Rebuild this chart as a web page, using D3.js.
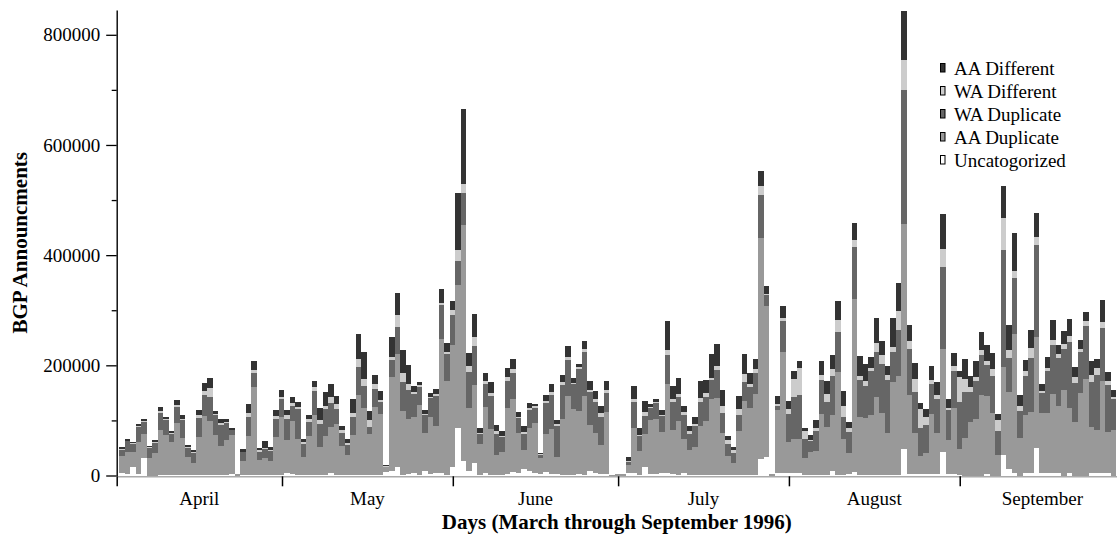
<!DOCTYPE html>
<html>
<head>
<meta charset="utf-8">
<script src="https://cdn.jsdelivr.net/npm/d3@7"></script>
<style>
  html, body { margin: 0; padding: 0; background: #fff; }
  svg { display: block; font-family: "Liberation Serif", "Times New Roman", serif; }
</style>
</head>
<body>
<svg id="chart" width="1117" height="539"></svg>
<script>
// ---- DATA (values in thousands of announcements, one entry per day from April 1, 1996) ----
const seriesKeys = ["Uncatogorized", "AA Duplicate", "WA Duplicate", "WA Different", "AA Different"];
const legendOrder = ["AA Different", "WA Different", "WA Duplicate", "AA Duplicate", "Uncatogorized"];

const uncategorized = [
  5,3,16,3,32,0,0,1,1,1,1,1,1,1,1,1,1,1,1,1,3,0,1,1,1,1,1,1,1,1,
  4,3,1,1,1,1,1,1,4,1,1,1,1,1,1,1,1,1,7,8,15,1,3,4,1,8,3,4,5,1,15,
  86,26,8,23,1,4,1,1,1,3,7,4,12,8,4,3,6,3,3,1,1,1,3,1,8,4,3,3,0,0,
  0,4,4,1,16,2,2,4,4,2,1,4,1,1,1,1,1,1,1,1,1,1,1,1,1,30,33,0,5,4,4,
  4,4,1,1,1,1,1,8,1,1,3,6,1,1,1,1,1,1,1,1,48,2,2,2,2,2,2,42,2,2,1,
  0,0,0,0,2,0,0,37,11,4,0,5,4,50,4,4,4,4,0,4,0,0,0,4,4,4,4,0
];
const aaDuplicate = [
  31,39,27,58,43,31,41,81,72,59,94,67,32,22,69,107,98,72,52,64,70,2,26,70,160,27,30,26,68,105,
  60,96,66,32,70,108,51,70,84,92,52,36,72,145,121,74,123,110,8,170,205,116,100,102,127,69,103,86,242,170,221,
  259,428,114,141,56,121,83,36,41,120,132,73,34,78,91,29,69,82,31,102,144,120,114,144,83,73,53,112,1,2,
  2,15,82,44,59,98,100,75,162,80,98,62,46,50,89,98,138,140,77,35,21,80,135,122,147,402,274,2,113,220,57,
  62,62,30,41,43,110,87,101,186,65,38,314,106,104,108,142,113,77,168,180,408,145,76,33,38,109,76,187,62,120,48,
  68,97,102,147,142,113,37,160,140,253,68,104,111,201,109,109,144,122,155,118,97,149,175,84,79,167,75,82
];
const waDuplicate = [
  11,20,15,27,22,19,18,31,27,16,29,32,17,18,35,38,43,37,39,30,9,0,15,35,25,15,17,18,34,32,
  38,27,53,24,27,44,41,49,43,27,25,18,34,51,40,13,33,22,1,31,49,53,53,42,33,33,34,54,62,49,56,
  45,58,65,71,18,42,60,38,27,49,47,27,29,33,27,5,56,62,56,62,65,45,76,80,60,56,51,34,0,0,
  0,5,47,27,33,22,29,29,53,51,44,44,29,38,44,44,34,51,36,22,18,29,34,38,38,78,20,0,9,56,51,
  76,80,36,20,37,62,45,71,74,40,38,94,67,58,80,82,89,96,56,83,243,82,73,51,51,56,60,150,54,67,85,
  83,54,69,71,56,67,43,212,63,102,49,72,98,167,36,76,89,87,74,120,71,76,96,82,100,96,85,56
];
const waDifferent = [
  1,1,1,1,2,1,1,4,2,2,4,3,2,2,5,8,16,2,3,2,0,0,1,8,5,3,2,2,5,5,
  7,6,5,4,4,7,7,7,12,9,4,4,7,15,13,13,9,4,1,7,22,16,11,4,4,2,2,4,5,5,9,
  20,18,11,16,2,4,5,5,2,7,7,2,4,4,4,2,4,5,4,5,5,2,4,4,5,5,7,7,0,0,
  0,2,5,2,7,2,2,2,9,5,5,5,4,5,7,7,4,7,13,7,7,11,15,5,7,15,2,0,2,5,9,
  33,49,13,3,5,9,15,13,22,20,7,13,7,9,7,16,15,9,9,34,56,15,24,34,16,7,9,33,5,9,45,
  24,9,7,9,7,13,20,58,13,13,9,9,18,15,4,7,9,7,9,11,11,5,9,13,13,11,7,4
];
const aaDifferent = [
  3,3,2,5,3,3,4,7,5,3,9,7,3,3,9,14,19,5,7,5,5,0,5,15,17,4,13,5,11,13,
  9,10,9,5,7,12,22,24,23,15,7,7,24,45,49,16,16,16,2,36,40,42,33,11,5,7,7,9,25,16,16,
  103,136,25,43,9,15,20,11,9,16,18,9,11,9,4,2,11,15,7,13,20,9,5,15,15,15,13,15,0,0,
  0,7,25,13,20,5,5,9,53,25,29,11,9,13,31,24,44,40,29,7,5,24,36,20,18,27,15,0,15,22,15,
  14,13,7,8,15,25,24,25,34,28,12,31,36,31,20,45,27,16,51,51,89,29,29,11,13,25,22,63,16,25,11,
  36,20,29,33,29,29,11,58,47,69,20,20,33,44,13,20,36,16,24,31,18,16,16,24,15,40,16,13
];

const monthNames = ["April", "May", "June", "July", "August", "September"];
const monthStarts = [0, 30, 61, 91, 122, 153, 183];   // day index of each month start
const yTicks = [0, 200000, 400000, 600000, 800000];
const yMinorTicks = [100000, 300000, 500000, 700000];

// ---- BUILD ----
const seriesArrays = [uncategorized, aaDuplicate, waDuplicate, waDifferent, aaDifferent];
const colors = {
  "Uncatogorized": "#ffffff",
  "AA Duplicate": "#999999",
  "WA Duplicate": "#666666",
  "WA Different": "#cccccc",
  "AA Different": "#333333"
};
const table = uncategorized.map((_, i) => {
  const row = { day: i };
  seriesKeys.forEach((k, s) => row[k] = seriesArrays[s][i] * 1000);
  return row;
});

const svg = d3.select("#chart");
const x0 = 116.7, dayW = 5.51;
const x = d3.scaleLinear().domain([0, 183]).range([x0, x0 + 183 * dayW]);
const y = d3.scaleLinear().domain([0, 845000]).range([475.5, 10]);
const barOffset = 0.42;

const stack = d3.stack().keys(seriesKeys)(table);

const gBars = svg.append("g").attr("shape-rendering", "crispEdges");
stack.forEach(layer => {
  gBars.append("g")
    .attr("fill", colors[layer.key])
    .selectAll("rect")
    .data(layer)
    .join("rect")
      .attr("x", d => x(d.data.day + barOffset))
      .attr("width", d => x(d.data.day + 1 + barOffset) - x(d.data.day + barOffset))
      .attr("y", d => y(d[1]))
      .attr("height", d => Math.max(0, y(d[0]) - y(d[1])));
});

// x baseline (light gray) and month ticks
const xAxis = d3.axisBottom(x)
  .tickValues(monthStarts.slice(0, 6))
  .tickSize(10)
  .tickSizeOuter(0)
  .tickFormat("");
const gx = svg.append("g").attr("transform", `translate(0,${y(0) + 0.8})`).call(xAxis);
gx.select(".domain").attr("stroke", "#aaaaaa").attr("stroke-width", 1.5);
gx.selectAll(".tick line").attr("stroke", "#000").attr("stroke-width", 1.5);

// month labels
svg.append("g").selectAll("text")
  .data(monthNames)
  .join("text")
    .attr("x", (d, i) => x((monthStarts[i] + monthStarts[i + 1]) / 2))
    .attr("y", 505)
    .attr("text-anchor", "middle")
    .attr("font-size", 19)
    .attr("fill", "#000")
    .text(d => d);

// y axis
const yAxis = d3.axisLeft(y)
  .tickValues(yTicks)
  .tickSize(10.5)
  .tickSizeOuter(0)
  .tickPadding(6)
  .tickFormat(d3.format("d"));
const gy = svg.append("g").attr("transform", `translate(${x0},0)`).call(yAxis);
gy.select(".domain").attr("stroke", "#000").attr("stroke-width", 1.4);
gy.selectAll(".tick line").attr("stroke", "#000").attr("stroke-width", 1.3);
gy.selectAll(".tick text")
  .attr("font-family", "Liberation Serif, Times New Roman, serif")
  .attr("font-size", 19)
  .attr("fill", "#000");

const yAxisMinor = d3.axisLeft(y).tickValues(yMinorTicks).tickSize(5).tickFormat("").tickSizeOuter(0);
const gym = svg.append("g").attr("transform", `translate(${x0},0)`).call(yAxisMinor);
gym.select(".domain").remove();
gym.selectAll(".tick line").attr("stroke", "#000").attr("stroke-width", 1.3);

// axis titles
svg.append("text")
  .attr("transform", `translate(27,${(y.range()[0] + y.range()[1]) / 2}) rotate(-90)`)
  .attr("text-anchor", "middle")
  .attr("font-size", 21)
  .attr("font-weight", "bold")
  .text("BGP Announcments");

svg.append("text")
  .attr("x", (x0 + 1117) / 2)
  .attr("y", 529)
  .attr("text-anchor", "middle")
  .attr("font-size", 21)
  .attr("font-weight", "bold")
  .text("Days (March through September 1996)");

// legend
const legend = svg.append("g");
legendOrder.forEach((k, i) => {
  const cy = 68 + i * 23;
  legend.append("rect")
    .attr("x", 940.5).attr("y", cy - 4.5)
    .attr("width", 4.5).attr("height", 8.5)
    .attr("fill", colors[k]).attr("stroke", "#000").attr("stroke-width", 1);
  legend.append("text")
    .attr("x", 954).attr("y", cy + 6.5)
    .attr("font-size", 19)
    .text(k);
});
</script>
</body>
</html>
